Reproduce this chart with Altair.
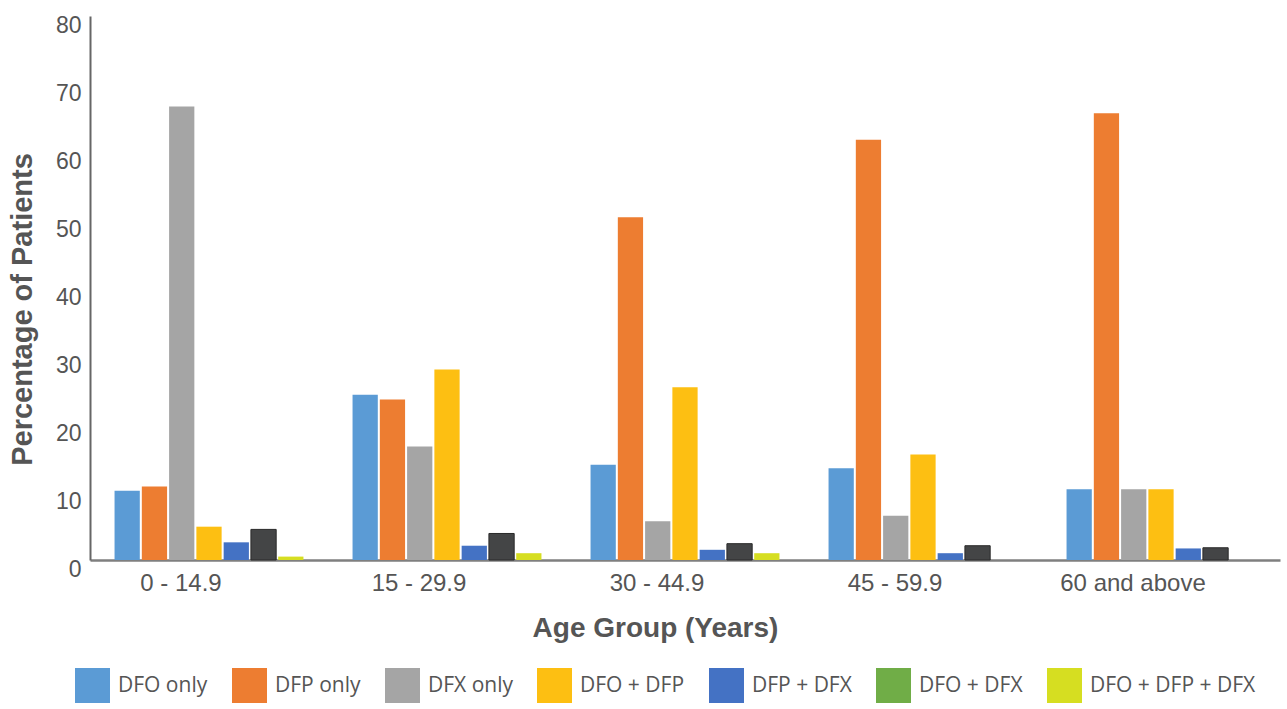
import altair as alt
import pandas as pd

# Age groups along the x axis
age_groups = ["0 - 14.9", "15 - 29.9", "30 - 44.9", "45 - 59.9", "60 and above"]

# Chelation regimens (one bar per regimen inside each age group)
regimens = ["DFO only", "DFP only", "DFX only", "DFO + DFP",
            "DFP + DFX", "DFO + DFX", "DFO + DFP + DFX"]

# Percentage of patients, one value per age group
dfo_only = [10.2, 24.3, 14.0, 13.5, 10.4]
dfp_only = [10.8, 23.6, 50.4, 61.8, 65.7]
dfx_only = [66.7, 16.7, 5.7, 6.5, 10.4]
dfo_dfp = [4.9, 28.0, 25.4, 15.5, 10.4]
dfp_dfx = [2.6, 2.1, 1.5, 1.0, 1.7]
dfo_dfx = [4.5, 3.9, 2.4, 2.1, 1.8]
dfo_dfp_dfx = [0.5, 1.0, 1.0, 0.0, 0.0]

legend_colors = ["#5B9BD5", "#ED7D31", "#A5A5A5", "#FDBF12",
                 "#4472C4", "#70AD47", "#D6DE21"]

y_ticks = [0, 10, 20, 30, 40, 50, 60, 70, 80]

series_values = [dfo_only, dfp_only, dfx_only, dfo_dfp, dfp_dfx, dfo_dfx, dfo_dfp_dfx]
rows = []
for name, vals in zip(regimens, series_values):
    for grp, v in zip(age_groups, vals):
        rows.append({"age": grp, "regimen": name, "pct": v})
df = pd.DataFrame(rows)

dark_test = "datum.regimen === 'DFO + DFX'"
label_color = "#555555"

bars = alt.Chart(df).mark_bar().encode(
    x=alt.X(
        "age:N",
        sort=age_groups,
        scale=alt.Scale(paddingInner=0, paddingOuter=0),
        axis=alt.Axis(
            title="Age Group (Years)",
            titleFont="Liberation Sans",
            titleFontSize=28,
            titleFontWeight="bold",
            titleColor=label_color,
            titleX=565,
            titleY=68,
            titleBaseline="middle",
            labelAngle=0,
            labelFont="Liberation Sans",
            labelFontSize=24,
            labelColor=label_color,
            labelOffset=-28,
            labelPadding=23,
            labelBaseline="middle",
            ticks=False,
            tickSize=0,
            domainColor="#7f7f7f",
            domainWidth=2.5,
        ),
    ),
    xOffset=alt.XOffset(
        "regimen:N",
        sort=regimens,
        scale=alt.Scale(paddingInner=0.074, paddingOuter=0.9),
    ),
    y=alt.Y(
        "pct:Q",
        scale=alt.Scale(domain=[0, 80], nice=False),
        axis=alt.Axis(
            title="Percentage of Patients",
            titleFont="Liberation Sans",
            titleFontSize=29,
            titleFontWeight="bold",
            titleColor=label_color,
            titleX=-68,
            titleY=293,
            titleBaseline="middle",
            values=y_ticks,
            labelFont="Liberation Sans",
            labelFontSize=23,
            labelColor=label_color,
            labelPadding=9,
            labelOffset=9,
            ticks=False,
            tickSize=0,
            grid=False,
            domainColor="#666666",
            domainWidth=2,
        ),
    ),
    color=alt.condition(
        dark_test,
        alt.value("#444546"),
        alt.Color(
            "regimen:N",
            sort=regimens,
            scale=alt.Scale(domain=regimens, range=legend_colors),
            legend=alt.Legend(
                title=None,
                orient="none",
                legendX=-15,
                legendY=652,
                direction="horizontal",
                symbolType="square",
                symbolSize=1225,
                symbolStrokeWidth=0,
                symbolOpacity=1,
                labelFont="Open Sans",
                labelFontSize=21,
                labelColor=label_color,
                labelOffset=8,
                labelLimit=300,
                columnPadding=24,
                padding=0,
            ),
        ),
    ),
    stroke=alt.condition(dark_test, alt.value("#2a2a2a"), alt.value("transparent")),
    strokeWidth=alt.value(1),
)

chart = bars.properties(
    width=1190,
    height=544,
    padding={"left": 90, "top": 16, "right": 7, "bottom": 149},
    autosize=alt.AutoSizeParams(type="none"),
    background="white",
).configure_view(stroke=None)

chart.save("out.html", embed_options={"renderer": "svg", "actions": False})
